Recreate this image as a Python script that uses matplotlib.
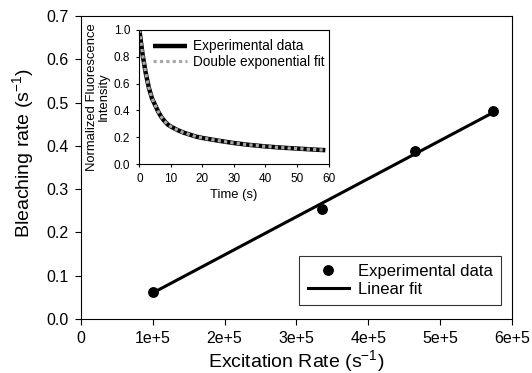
import matplotlib
matplotlib.use("Agg")
import matplotlib.pyplot as plt

plt.rcParams['font.family'] = ['Liberation Sans', 'DejaVu Sans']
plt.rcParams['mathtext.fontset'] = 'custom'
plt.rcParams['mathtext.rm'] = 'Liberation Sans'
plt.rcParams['mathtext.it'] = 'Liberation Sans:italic'
plt.rcParams['mathtext.default'] = 'regular'

# ---- main data ----
excitation_rate = [1.0e5, 3.36e5, 4.65e5, 5.74e5]
bleaching_rate = [0.063, 0.253, 0.387, 0.481]
fit_x = [1.0e5, 5.74e5]
fit_y = [0.060, 0.477]

x_ticks = [0, 1e5, 2e5, 3e5, 4e5, 5e5, 6e5]
x_tick_labels = ["0", "1e+5", "2e+5", "3e+5", "4e+5", "5e+5", "6e+5"]
y_ticks = [0.0, 0.1, 0.2, 0.3, 0.4, 0.5, 0.6, 0.7]

# ---- inset data ----
time_s = [0, 1, 2, 3, 4, 5, 6, 7, 8, 9, 10, 12, 14, 16, 18, 20, 25, 30,
          35, 40, 45, 50, 55, 59]
exp_intensity = [1.0, 0.82, 0.68, 0.57, 0.49, 0.44, 0.39, 0.35, 0.32, 0.295,
                 0.28, 0.255, 0.235, 0.22, 0.205, 0.195, 0.175, 0.157,
                 0.143, 0.132, 0.123, 0.116, 0.109, 0.104]
fit_intensity = [1.0, 0.82, 0.68, 0.57, 0.49, 0.44, 0.39, 0.35, 0.32, 0.295,
                 0.28, 0.255, 0.235, 0.22, 0.205, 0.195, 0.175, 0.157,
                 0.143, 0.132, 0.123, 0.116, 0.109, 0.104]

fig = plt.figure(figsize=(5.32, 3.73), dpi=100)
ax = fig.add_axes([0.152, 0.145, 0.810, 0.812])

ax.plot(excitation_rate, bleaching_rate, 'o', color='black', markersize=6.8,
        label='Experimental data', zorder=3)
ax.plot(fit_x, fit_y, '-', color='black', linewidth=2.2, label='Linear fit')

ax.set_xlim(0, 6e5)
ax.set_ylim(0, 0.7)
ax.set_xticks(x_ticks)
ax.set_xticklabels(x_tick_labels)
ax.set_yticks(y_ticks)
ax.set_yticklabels([f"{v:.1f}" for v in y_ticks])
ax.tick_params(direction='out', length=4, width=0.8, labelsize=11.5,
               colors='black', pad=5)
for s in ax.spines.values():
    s.set_linewidth(0.8)
ax.set_xlabel('Excitation Rate (s$^{-1}$)', fontsize=14, labelpad=1)
ax.set_ylabel('Bleaching rate (s$^{-1}$)', fontsize=14, labelpad=7)
ax.yaxis.label.set_y(0.546)

leg = ax.legend(loc='lower right', bbox_to_anchor=(0.9745, 0.046),
                borderaxespad=0, fontsize=12, frameon=True, fancybox=False,
                edgecolor='black', handlelength=2.5, handletextpad=0.5,
                borderpad=0.5, labelspacing=0.15, numpoints=1)
leg.get_frame().set_linewidth(0.8)

# ---- inset ----
ins = fig.add_axes([0.262, 0.560, 0.3555, 0.3596])
ins.plot(time_s, exp_intensity, '-', color='black', linewidth=3.2,
         label='Experimental data', solid_capstyle='butt')
ins.plot(time_s, fit_intensity, color='#a8a8a8', linewidth=2.3,
         linestyle=(0, (1, 1)), label='Double exponential fit')
ins.set_xlim(0, 60)
ins.set_ylim(0, 1.0)
ins.set_xticks([0, 10, 20, 30, 40, 50, 60])
ins.set_yticks([0.0, 0.2, 0.4, 0.6, 0.8, 1.0])
ins.set_yticklabels(["0.0", "0.2", "0.4", "0.6", "0.8", "1.0"])
ins.tick_params(direction='out', length=2.5, width=0.8, labelsize=8.5,
                colors='black', pad=4)
for s in ins.spines.values():
    s.set_linewidth(0.8)
ins.set_xlabel('Time (s)', fontsize=9.4, labelpad=3)
ins.set_ylabel('Normalized Fluorescence\nIntensity', fontsize=9.4,
               labelpad=3, linespacing=0.95)
ileg = ins.legend(loc='upper left', bbox_to_anchor=(0.071, 0.93),
                  borderaxespad=0, borderpad=0, frameon=False, fontsize=9.8,
                  handlelength=2.5, handletextpad=0.46, labelspacing=0.1)

fig.savefig('out.png', dpi=100)
